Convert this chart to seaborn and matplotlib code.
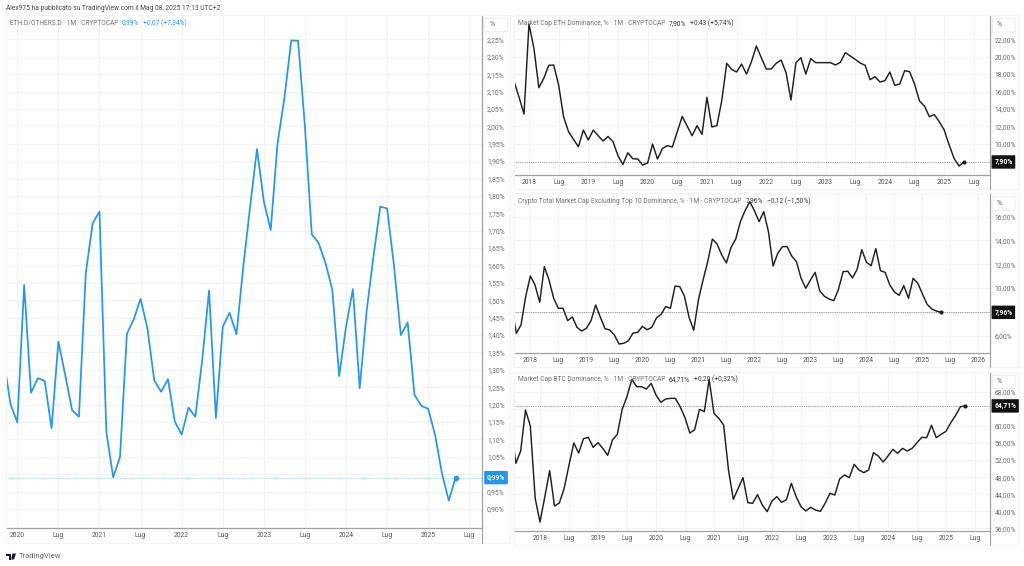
"""Four-panel dominance chart: ETH.D/OTHERS.D plus ETH, OTHERS and BTC monthly dominance."""
import matplotlib
matplotlib.use('Agg')
import matplotlib.pyplot as plt
from matplotlib.lines import Line2D
from matplotlib.patches import FancyBboxPatch, Polygon, Circle, Rectangle
from matplotlib.ticker import FuncFormatter
import seaborn as sns
import numpy as np
import pandas as pd

W, H = 1024, 566

# first value of each series, in months from January of the base year
eth_others_start = -2   # base 2020
eth_others_values = [
    1.333, 1.202, 1.149, 1.544, 1.234, 1.276, 1.268, 1.132, 1.381, 1.285, 1.184, 1.165, 1.578, 1.721,
    1.755, 1.122, 0.991, 1.050, 1.403, 1.445, 1.504, 1.419, 1.269, 1.237, 1.273, 1.151,
    1.114, 1.191, 1.165, 1.328, 1.528, 1.161, 1.424, 1.464, 1.402, 1.597, 1.770, 1.935,
    1.784, 1.702, 1.951, 2.081, 2.247, 2.246, 1.999, 1.690, 1.664, 1.607, 1.530, 1.282,
    1.424, 1.532, 1.247, 1.467, 1.625, 1.769, 1.764, 1.600, 1.400, 1.436, 1.228, 1.196,
    1.188, 1.113, 1.003, 0.924, 0.990,
]

eth_dom_start = -3   # base 2018
eth_dom_values = [
    17.13, 15.33, 13.41, 23.77, 20.97, 16.44, 17.52, 19.01, 19.05, 16.75, 13.10, 11.38, 10.50, 9.65, 11.57,
    10.42, 11.57, 10.92, 10.31, 10.84, 10.23, 8.62, 7.62, 8.96, 8.27, 8.24, 7.55,
    7.78, 9.96, 8.24, 9.46, 9.77, 9.62, 11.38, 13.14, 12.03, 10.92, 12.07, 11.07,
    15.33, 11.92, 12.07, 14.95, 19.24, 18.55, 18.24, 19.16, 18.01, 19.43, 21.23, 19.89,
    18.59, 18.59, 19.24, 19.62, 18.17, 15.02, 19.32, 19.89, 18.01, 19.78, 19.32, 19.32,
    19.32, 19.32, 19.05, 19.36, 20.47, 20.08, 19.70, 19.28, 19.01, 17.36, 17.71, 17.09,
    17.25, 18.24, 16.71, 16.86, 18.40, 18.28, 16.86, 14.91, 14.33, 13.10, 13.34, 12.53,
    11.57, 9.85, 8.31, 7.43, 7.90,
]

others_dom_start = -4   # base 2018
others_dom_values = [
    8.44, 6.20, 6.90, 9.28, 11.01, 10.26, 8.80, 11.80, 10.68, 9.14, 8.30, 8.30, 7.26, 7.57, 6.70, 6.39,
    6.62, 7.26, 8.58, 7.54, 6.59, 6.48, 6.06, 5.30, 5.36, 5.58, 6.22, 6.28,
    6.78, 6.50, 6.70, 7.48, 7.79, 8.44, 8.30, 10.17, 10.12, 9.33, 7.54, 6.45,
    9.00, 10.68, 12.22, 14.12, 13.70, 12.78, 12.11, 13.42, 14.12, 15.58, 16.50, 17.26,
    16.50, 15.58, 16.42, 14.74, 11.85, 12.92, 13.48, 13.48, 12.69, 12.22, 10.82, 9.98,
    10.68, 11.32, 9.75, 9.31, 9.08, 8.94, 9.89, 11.38, 11.41, 10.85, 11.57, 13.23,
    12.16, 11.88, 13.31, 11.46, 11.32, 10.26, 9.67, 9.39, 10.20, 9.14, 10.82, 10.40,
    9.50, 8.63, 8.24, 8.07, 7.96,
]

btc_dom_start = -6   # base 2018
btc_dom_values = [
    60.2, 51.25, 54.14, 63.75, 60.00, 43.05, 37.50, 43.44, 49.53, 41.25, 41.95, 45.39, 50.86, 56.02, 53.67, 57.03, 57.34, 55.00,
    56.09, 54.77, 53.13, 56.72, 58.05, 63.91, 66.90, 70.94, 69.22, 69.22, 68.67, 70.00,
    67.27, 65.55, 66.33, 66.48, 66.48, 64.53, 61.95, 58.36, 59.14, 63.91, 63.36, 70.94,
    62.97, 61.80, 60.23, 49.69, 42.81, 45.39, 47.89, 42.03, 41.88, 43.91, 41.48, 39.92,
    42.42, 43.44, 42.11, 42.73, 46.56, 43.44, 41.09, 40.08, 40.94, 40.31, 40.00, 41.88,
    44.22, 43.83, 47.58, 48.52, 47.89, 51.02, 49.69, 49.06, 49.69, 53.75, 52.97, 51.56,
    52.97, 54.53, 53.59, 54.77, 54.14, 54.77, 56.09, 57.34, 57.27, 60.16, 57.27, 58.05,
    58.75, 60.78, 62.50, 64.53, 64.71,
]

BLUE = '#2196f3'
DARK = '#1f1f1f'
GRID = '#f1f2f4'
AXIS = '#a0a0a0'
TEXT = '#707070'

sns.set_theme(style='white')
plt.rcParams['font.family'] = ['Roboto', 'DejaVu Sans']
plt.rcParams['axes.unicode_minus'] = False


def fx(px):
    return px / W


def fy(py):
    return 1 - py / H


def percent_label(v, _pos=None):
    return f'{v:.2f}%'.replace('.', ',')


def month_ticks(base_year, last):
    ticks = np.arange(0, last + 1, 6)
    labels = [str(base_year + t // 12) if t % 12 == 0 else 'Lug' for t in ticks]
    return ticks, labels


def put_text(px, py, text, color=TEXT, size=4.75, **kw):
    fig.text(fx(px), fy(py), text, color=color, fontsize=size, va='center', ha='left', **kw)


def draw_panel(box, strip_bottom, frame_right, start, values, base_year, last_tick,
               xlim, ylim, yticks, color, box_color):
    left, top, right, bottom = box
    ax = fig.add_axes([fx(left), fy(bottom), fx(right - left), (bottom - top) / H])
    df = pd.DataFrame({'month': np.arange(len(values)) + start, 'value': values})

    # thin dotted line at the last value, under the series
    last = values[-1]
    ax.axhline(last, color=box_color if color == BLUE else '#777777', lw=0.6,
               ls=(0, (1, 1.2)), alpha=0.55 if color == BLUE else 1, zorder=1)
    sns.lineplot(data=df, x='month', y='value', ax=ax, color=color,
                 lw=1.25 if color == BLUE else 1.05, errorbar=None, zorder=3)
    sns.scatterplot(data=df.tail(1), x='month', y='value', ax=ax, color=color,
                    s=16 if color == BLUE else 9, linewidth=0, zorder=4)

    ax.set_xlim(*xlim)
    ax.set_ylim(*ylim)
    ticks, labels = month_ticks(base_year, last_tick)
    ax.set_xticks(ticks)
    ax.set_xticklabels(labels)
    ax.set_yticks(yticks)
    ax.yaxis.set_major_formatter(FuncFormatter(percent_label))
    ax.yaxis.tick_right()
    ax.set_xlabel('')
    ax.set_ylabel('')
    ax.grid(True, color=GRID, lw=0.9)
    ax.set_axisbelow(True)
    ax.tick_params(axis='x', length=0, pad=3.0, labelsize=4.9, labelcolor='#555555')
    ax.tick_params(axis='y', length=0, pad=3.4, labelsize=4.9, labelcolor='#6a6a6a')
    for name, spine in ax.spines.items():
        spine.set_visible(name in ('right', 'bottom'))
        spine.set_color(AXIS)
        spine.set_linewidth(0.9)

    # value tag on the price scale
    ax.annotate(percent_label(last), xy=(1, last), xycoords=('axes fraction', 'data'),
                xytext=(3.3, 0), textcoords='offset points', va='center', ha='left',
                fontsize=4.9, fontweight='bold', color='white', zorder=6,
                bbox=dict(boxstyle='round,pad=0.4,rounding_size=0.1', fc=box_color, ec='none'))

    # price scale line carries on through the time strip, faint frame round the panel
    fig.add_artist(Line2D([fx(right)] * 2, [fy(bottom), fy(strip_bottom)], color=AXIS, lw=0.8))
    fig.add_artist(Rectangle((fx(left), fy(strip_bottom)), fx(frame_right - left),
                             (strip_bottom - top) / H, fill=False, ec='#f3f3f3', lw=0.8,
                             transform=fig.transFigure))
    # % button above the scale
    fig.add_artist(FancyBboxPatch((fx(right + 2.5), fy(top + 17)), fx(23), 13.5 / H,
                                  boxstyle='round,pad=0,rounding_size=0.002', fc='white',
                                  ec='#ececec', lw=0.7, transform=fig.transFigure, zorder=5))
    fig.text(fx(right + 7), fy(top + 10), '%', fontsize=4.9, color='#555555',
             va='center', ha='left', zorder=6)
    return ax


fig = plt.figure(figsize=(W / 100, H / 100), dpi=100, facecolor='white')

draw_panel((6, 14.7, 482.3, 527.7), 543, 510, eth_others_start, eth_others_values, 2020, 66,
           (-1.65, 67.9), (0.846, 2.321), np.arange(0.90, 2.26, 0.05), BLUE, BLUE)
draw_panel((514, 15, 989.7, 175), 189, 1019, eth_dom_start, eth_dom_values, 2018, 90,
           (-3.03, 93.2), (6.4, 24.8), np.arange(10, 23, 2), DARK, '#111111')
draw_panel((514, 193.3, 989.7, 352.7), 367, 1019, others_dom_start, others_dom_values, 2018, 96,
           (-3.5, 98.4), (4.57, 17.96), np.arange(6, 17, 2), DARK, '#111111')
draw_panel((514, 371.7, 989.7, 531), 545, 1019, btc_dom_start, btc_dom_values, 2018, 90,
           (-5.38, 93.05), (35.39, 72.73), np.arange(36, 69, 4), DARK, '#111111')

put_text(6, 8, 'Alex975 ha pubblicato su TradingView.com il Mag 08, 2025 17:13 UTC+2',
         color='#444444')

put_text(10, 23, 'ETH.D/OTHERS.D · 1M · CRYPTOCAP')
put_text(122, 23, '0,99%', color=BLUE)
put_text(143, 23, '+0,07 (+7,34%)', color=BLUE)

put_text(518, 23.3, 'Market Cap ETH Dominance, % · 1M · CRYPTOCAP')
put_text(669, 23.3, '7,90%', color='#333333')
put_text(690, 23.3, '+0,43 (+5,74%)', color='#333333')

put_text(518, 201, 'Crypto Total Market Cap Excluding Top 10 Dominance, % · 1M · CRYPTOCAP')
put_text(746, 201, '7,96%', color='#333333')
put_text(767, 201, '−0,12 (−1,50%)', color='#333333')

put_text(518, 379.7, 'Market Cap BTC Dominance, % · 1M · CRYPTOCAP')
put_text(669, 379.7, '64,71%', color='#333333')
put_text(694, 379.7, '+0,20 (+0,32%)', color='#333333')

# TradingView mark in the bottom corner
fig.add_artist(Polygon([(fx(6), fy(553.5)), (fx(10.5), fy(553.5)), (fx(10.5), fy(559.5)),
                        (fx(8.5), fy(559.5)), (fx(8.5), fy(555.5)), (fx(6), fy(555.5))],
                       closed=True, fc='#131722', ec='none', transform=fig.transFigure))
fig.add_artist(Polygon([(fx(12.5), fy(553.5)), (fx(16), fy(553.5)), (fx(14), fy(559.5)),
                        (fx(11.2), fy(559.5))],
                       closed=True, fc='#131722', ec='none', transform=fig.transFigure))
put_text(19, 556, 'TradingView', color='#666666', size=5.5)

fig.savefig('out.png', dpi=100)
